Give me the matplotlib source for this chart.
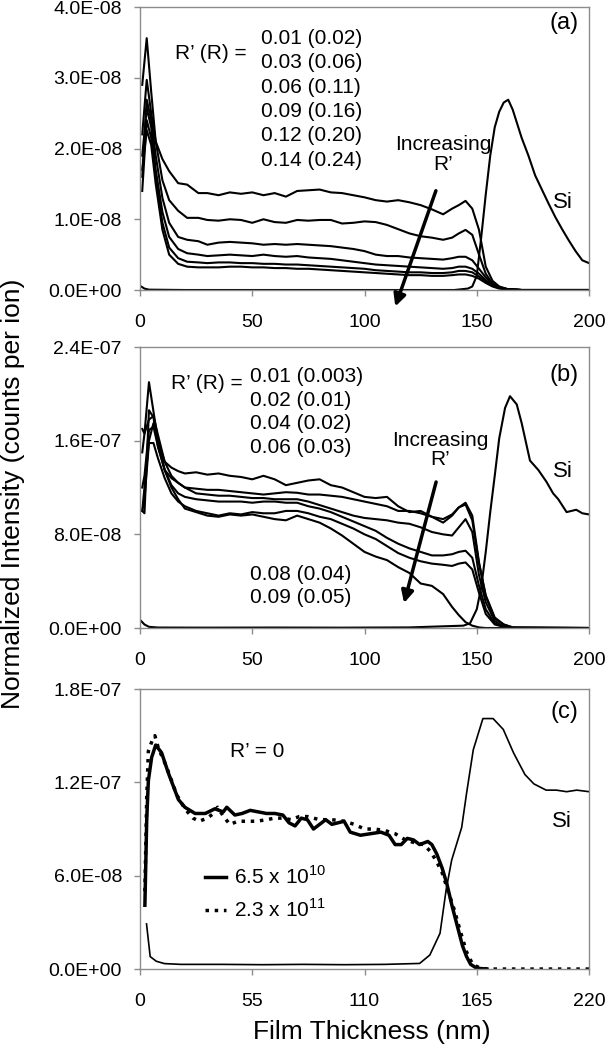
# %%
import matplotlib.pyplot as plt
import numpy as np
from matplotlib.ticker import FuncFormatter

plt.rcParams['font.family'] = ['Liberation Sans', 'DejaVu Sans']
plt.rcParams['mathtext.fontset'] = 'custom'
plt.rcParams['mathtext.rm'] = 'Liberation Sans'

# %% panel (a) data, intensity in units of 1e-8
xa = [1, 3, 5, 7, 10, 13, 17, 21, 26, 30, 35, 40, 45, 50, 55, 60, 65, 70, 75, 80,
      85, 90, 95, 100, 105, 110, 115, 120, 125, 130, 135, 139, 142, 145, 148, 151,
      154, 157, 160, 164, 170, 200]
a1 = [2.9, 3.56, 2.8, 2.1, 1.85, 1.68, 1.51, 1.49, 1.37, 1.37,
      1.34, 1.38, 1.36, 1.38, 1.34, 1.37, 1.32, 1.40, 1.41, 1.42,
      1.38, 1.37, 1.34, 1.31, 1.27, 1.25, 1.27, 1.24, 1.20, 1.14,
      1.07, 1.15, 1.20, 1.26, 1.15, 0.85, 0.33, 0.13, 0.05, 0.01, 0, 0]
a2 = [2.2, 2.97, 2.5, 2.1, 1.55, 1.27, 1.12, 1.02, 1.02, 0.99,
      0.98, 1.0, 0.99, 0.95, 1.0, 0.96, 0.95, 0.99, 0.98, 0.99,
      0.99, 0.94, 0.95, 0.97, 0.96, 0.92, 0.86, 0.80, 0.76, 0.74,
      0.71, 0.74, 0.80, 0.85, 0.78, 0.50, 0.23, 0.09, 0.03, 0.01, 0, 0]
a3 = [1.6, 2.69, 2.4, 1.9, 1.3, 0.95, 0.75, 0.71, 0.69, 0.64,
      0.67, 0.68, 0.67, 0.66, 0.64, 0.65, 0.64, 0.65, 0.64, 0.63,
      0.62, 0.60, 0.58, 0.55, 0.50, 0.48, 0.48, 0.46, 0.45, 0.44,
      0.43, 0.45, 0.47, 0.47, 0.42, 0.30, 0.18, 0.09, 0.04, 0.01, 0, 0]
a4 = [1.9, 2.57, 2.3, 1.7, 1.1, 0.75, 0.58, 0.52, 0.50, 0.48,
      0.49, 0.50, 0.49, 0.48, 0.50, 0.48, 0.47, 0.48, 0.46, 0.45,
      0.44, 0.42, 0.40, 0.38, 0.36, 0.35, 0.34, 0.33, 0.32, 0.31,
      0.30, 0.31, 0.33, 0.33, 0.30, 0.23, 0.14, 0.07, 0.03, 0.01, 0, 0]
a5 = [1.4, 2.4, 2.15, 1.6, 0.95, 0.6, 0.45, 0.40, 0.39, 0.38,
      0.39, 0.39, 0.38, 0.38, 0.37, 0.37, 0.36, 0.36, 0.35, 0.34,
      0.33, 0.32, 0.31, 0.30, 0.28, 0.27, 0.26, 0.25, 0.25, 0.24,
      0.24, 0.25, 0.27, 0.27, 0.25, 0.19, 0.12, 0.06, 0.03, 0.01, 0, 0]
a6 = [1.7, 2.26, 2.05, 1.5, 0.85, 0.5, 0.37, 0.33, 0.32, 0.32,
      0.32, 0.33, 0.33, 0.32, 0.32, 0.31, 0.31, 0.30, 0.30, 0.29,
      0.28, 0.27, 0.26, 0.25, 0.24, 0.23, 0.22, 0.21, 0.21, 0.20,
      0.20, 0.21, 0.22, 0.22, 0.20, 0.16, 0.10, 0.05, 0.02, 0.01, 0, 0]
xsi_a = [0.5, 2, 4, 20, 60, 100, 140, 146, 148, 150, 152, 154, 156, 158, 160, 162,
         164, 166, 168, 170, 173, 176, 179, 182, 185, 188, 191, 194, 197, 200]
si_a = [0.05, 0.02, 0.005, 0, 0, 0, 0, 0.02, 0.05, 0.2, 0.75, 1.35, 1.9, 2.3, 2.52,
        2.65, 2.69, 2.55, 2.35, 2.15, 1.9, 1.62, 1.42, 1.22, 1.03, 0.86, 0.7, 0.55,
        0.42, 0.38]
labels_a = ['0.01 (0.02)', '0.03 (0.06)', '0.06 (0.11)', '0.09 (0.16)',
            '0.12 (0.20)', '0.14 (0.24)']

# %% panel (b) data, units of 1e-7
xb = [1, 2, 4, 6, 8, 11, 14, 17, 20, 25, 30, 35, 40, 45, 50, 55, 60, 65, 70, 75,
      80, 85, 90, 95, 100, 105, 110, 115, 120, 125, 130, 135, 139, 142, 145, 148,
      151, 154, 158, 162, 166, 200]
b1 = [1.7, 1.66, 2.10, 1.85, 1.6, 1.42, 1.37, 1.34, 1.32, 1.33,
      1.31, 1.32, 1.30, 1.29, 1.27, 1.30, 1.27, 1.22, 1.24, 1.26,
      1.27, 1.22, 1.20, 1.16, 1.12, 1.11, 1.12, 1.04, 0.99, 1.0,
      0.95, 0.90, 0.96, 1.03, 1.07, 0.96, 0.56, 0.27, 0.08, 0.03, 0.005, 0]
b2 = [1.0, 0.98, 1.86, 1.8, 1.55, 1.35, 1.28, 1.24, 1.20, 1.19,
      1.18, 1.18, 1.17, 1.16, 1.15, 1.14, 1.15, 1.16, 1.155, 1.14,
      1.14, 1.13, 1.12, 1.10, 1.08, 1.06, 1.04, 1.0, 1.0, 0.98,
      0.95, 0.93, 0.97, 1.03, 1.055, 0.92, 0.55, 0.28, 0.09, 0.03, 0.005, 0]
b3 = [1.5, 1.66, 1.78, 1.81, 1.65, 1.42, 1.30, 1.24, 1.20, 1.15,
      1.14, 1.13, 1.13, 1.12, 1.11, 1.11, 1.10, 1.10, 1.10, 1.08,
      1.05, 1.02, 0.99, 0.96, 0.94, 0.93, 0.92, 0.90, 0.89, 0.86,
      0.82, 0.80, 0.79, 0.86, 0.93, 0.82, 0.45, 0.22, 0.06, 0.01, 0, 0]
b4 = [1.2, 1.3, 1.69, 1.72, 1.55, 1.35, 1.22, 1.15, 1.12, 1.10,
      1.09, 1.08, 1.08, 1.08, 1.07, 1.08, 1.08, 1.07, 1.07, 1.04,
      1.02, 0.99, 0.95, 0.91, 0.87, 0.83, 0.77, 0.72, 0.68, 0.65,
      0.62, 0.62, 0.63, 0.65, 0.66, 0.60, 0.36, 0.16, 0.04, 0.01, 0, 0]
b5 = [1.0, 1.1, 1.58, 1.58, 1.45, 1.28, 1.15, 1.08, 1.04, 1.0,
      0.98, 0.96, 0.98, 0.97, 0.99, 0.98, 0.98, 1.0, 1.0, 0.98,
      0.95, 0.93, 0.89, 0.85, 0.80, 0.76, 0.70, 0.64, 0.60, 0.57,
      0.55, 0.54, 0.53, 0.55, 0.56, 0.50, 0.30, 0.12, 0.03, 0.01, 0, 0]
b6 = [1.0, 1.2, 1.6, 1.75, 1.6, 1.35, 1.20, 1.10, 1.02, 0.99,
      0.96, 0.95, 0.97, 0.96, 0.97, 0.95, 0.93, 0.92, 0.96, 0.93,
      0.90, 0.85, 0.79, 0.72, 0.65, 0.61, 0.58, 0.52, 0.47, 0.38,
      0.36, 0.29, 0.18, 0.11, 0.05, 0.02, 0.005, 0, 0, 0, 0, 0]
xsi_b = [0.5, 2, 4, 8, 30, 60, 90, 120, 144, 147, 150, 152, 154, 156, 158, 160,
         162.6, 164.8, 167.8, 170, 173.7, 177.4, 181, 184, 186.3, 190, 194.3, 197, 200]
si_b = [0.06, 0.03, 0.01, 0.004, 0.003, 0.004, 0.003, 0.005, 0.02, 0.04, 0.16, 0.35,
        0.65, 0.99, 1.3, 1.62, 1.88, 1.98, 1.91, 1.75, 1.43, 1.35, 1.25, 1.15, 1.1,
        0.99, 1.01, 0.98, 0.97]
labels_b = ['0.01 (0.003)', '0.02 (0.01)', '0.04 (0.02)', '0.06 (0.03)',
            '0.08 (0.04)', '0.09 (0.05)']

# %% panel (c) data, units of 1e-7
xc1 = [2.4, 3.3, 4.1, 5.7, 7.7, 10.6, 13.9, 18.8, 22, 27, 32, 36.7, 40.8, 42.5, 46.5,
       50, 54, 58, 62, 66, 70, 73, 76, 79, 82, 85, 88, 91, 94, 97, 100, 103, 108,
       113, 118, 122, 125, 128, 131, 134, 137, 141, 143, 145.4, 148, 150.3, 153,
       155.2, 158, 160, 162, 165, 170]
c1 = [0.41, 0.96, 1.21, 1.36, 1.44, 1.39, 1.26, 1.09, 1.04, 1.0,
      1.0, 1.03, 1.01, 1.04, 0.99, 1.0, 1.02, 1.01, 1.0, 1.0,
      0.99, 0.94, 0.92, 0.97, 0.96, 0.90, 0.93, 0.96, 0.93, 0.94,
      0.95, 0.88, 0.86, 0.87, 0.88, 0.86, 0.80, 0.80, 0.84, 0.83,
      0.80, 0.82, 0.80, 0.74, 0.65, 0.55, 0.40, 0.29, 0.15, 0.08,
      0.03, 0.005, 0]
xc2 = [2.4, 3.3, 4.1, 6, 7.3, 9, 13, 18, 22, 26, 29, 33, 36, 38, 41, 44, 48, 52, 57,
       62, 66, 70, 74, 78, 82, 88, 94, 100, 105, 110, 115, 120, 125, 130, 135, 139,
       142, 145, 148, 151, 154, 157, 160, 163, 166, 170, 220]
c2 = [0.5, 1.1, 1.4, 1.47, 1.5, 1.42, 1.3, 1.12, 1.03, 0.97,
      0.95, 0.97, 1.0, 1.04, 0.98, 0.93, 0.95, 0.95, 0.95, 0.96,
      0.97, 0.97, 0.96, 0.98, 0.98, 0.96, 0.96, 0.95, 0.93, 0.90,
      0.90, 0.89, 0.87, 0.83, 0.81, 0.80, 0.76, 0.70, 0.62, 0.50,
      0.38, 0.24, 0.11, 0.03, 0.01, 0, 0]
xsi_c = [3.2, 5, 8, 12, 20, 40, 60, 80, 100, 120, 137, 142, 147, 150, 152.7, 157.6,
         160, 163.3, 168, 173, 178, 183, 188.6, 193, 199, 204, 209, 214, 220]
si_c = [0.29, 0.08, 0.05, 0.035, 0.03, 0.03, 0.028, 0.03, 0.028, 0.03, 0.036, 0.09,
        0.23, 0.51, 0.7, 0.91, 1.13, 1.41, 1.61, 1.61, 1.54, 1.39, 1.25, 1.19, 1.15,
        1.15, 1.14, 1.15, 1.14]
fluence_labels = [r'6.5 x 10$^{10}$', r'2.3 x 10$^{11}$']

# %%
grey = '#8c8c8c'
fs = 15


def style(ax, xmax, xstep, ymax, nyt):
    ax.set_xlim(0, xmax)
    ax.set_ylim(0, ymax)
    ax.set_xticks(np.arange(0, xmax + 1, xstep))
    ax.set_yticks(np.linspace(0, ymax, nyt))
    ax.yaxis.set_major_formatter(FuncFormatter(lambda v, p: '%.1E' % v))
    for s in ax.spines.values():
        s.set_color(grey)
        s.set_linewidth(1.0)
    ax.tick_params(direction='out', length=4, width=1, color=grey, labelsize=14)
    ax.tick_params(axis='x', pad=13)
    ax.tick_params(axis='y', pad=9)


fig = plt.figure(figsize=(6.06, 10.5), dpi=100)
ax_a = fig.add_axes([0.231, 0.7238, 0.741, 0.2695])
ax_b = fig.add_axes([0.231, 0.4019, 0.741, 0.2676])
ax_c = fig.add_axes([0.231, 0.0771, 0.741, 0.2667])

arrow = dict(arrowstyle='-|>', lw=2.5, color='k', mutation_scale=18)

# (a)
for yy in [a1, a2, a3, a4, a5, a6]:
    ax_a.plot(xa, np.array(yy) * 1e-8, color='k', lw=1.5)
ax_a.plot(xsi_a, np.array(si_a) * 1e-8, color='k', lw=1.5)
style(ax_a, 200, 50, 4e-8, 5)
ax_a.text(47.7, 3.35e-8, 'R’ (R) =', ha='right', va='center', fontsize=fs)
for i, lab in enumerate(labels_a):
    ax_a.text(53.9, 3.557e-8 - i * 0.344e-8, lab, ha='left', va='center', fontsize=fs)
ax_a.text(135.1, 1.92e-8, 'Increasing\nR’', ha='center', va='center', fontsize=fs,
          linespacing=1.05)
ax_a.annotate('', xy=(113.3, -0.27e-8), xytext=(132.2, 1.44e-8),
              arrowprops=arrow, annotation_clip=False)
ax_a.text(188.4, 1.23e-8, 'Si', ha='center', va='center', fontsize=16)
ax_a.text(0.976, 0.942, '(a)', transform=ax_a.transAxes, ha='right', va='center',
          fontsize=17)

# (b)
for yy in [b1, b2, b3, b4, b5, b6]:
    ax_b.plot(xb, np.array(yy) * 1e-7, color='k', lw=1.5)
ax_b.plot(xsi_b, np.array(si_b) * 1e-7, color='k', lw=1.5)
style(ax_b, 200, 50, 2.4e-7, 4)
ax_b.text(45.9, 2.09e-7, 'R’ (R) =', ha='right', va='center', fontsize=fs)
b_rows = [2.147, 1.947, 1.744, 1.540, 0.46, 0.26]
for lab, yv in zip(labels_b, b_rows):
    ax_b.text(49, yv * 1e-7, lab, ha='left', va='center', fontsize=fs)
ax_b.text(133.6, 1.52e-7, 'Increasing\nR’', ha='center', va='center', fontsize=fs,
          linespacing=1.05)
ax_b.annotate('', xy=(117.3, 0.19e-7), xytext=(132.2, 1.27e-7),
              arrowprops=arrow, annotation_clip=False)
ax_b.text(188.5, 1.34e-7, 'Si', ha='center', va='center', fontsize=16)
ax_b.text(0.976, 0.90, '(b)', transform=ax_b.transAxes, ha='right', va='center',
          fontsize=17)

# (c)
h1, = ax_c.plot(xc1, np.array(c1) * 1e-7, color='k', lw=2.5, label=fluence_labels[0])
h2, = ax_c.plot(xc2, np.array(c2) * 1e-7, color='k', lw=2.5, ls=':',
                label=fluence_labels[1])
ax_c.plot(xsi_c, np.array(si_c) * 1e-7, color='k', lw=1.2)
style(ax_c, 220, 55, 1.8e-7, 4)
ax_c.text(57.2, 1.40e-7, 'R’ = 0', ha='center', va='center', fontsize=fs)
ax_c.text(206.6, 0.947e-7, 'Si', ha='center', va='center', fontsize=16)
ax_c.text(0.976, 0.919, '(c)', transform=ax_c.transAxes, ha='right', va='center',
          fontsize=17)
ax_c.legend(handles=[h1, h2], loc='upper left', bbox_to_anchor=(0.145, 0.37),
            frameon=False, fontsize=fs, handlelength=1.0, handletextpad=0.4,
            labelspacing=0.5, borderpad=0, borderaxespad=0)

fig.text(0.021, 0.530, 'Normalized Intensity (counts per ion)', rotation=90,
         ha='center', va='center', fontsize=19)
fig.text(0.613, 0.0175, 'Film Thickness (nm)', ha='center', va='center', fontsize=19)

plt.savefig('out.png', dpi=100)
